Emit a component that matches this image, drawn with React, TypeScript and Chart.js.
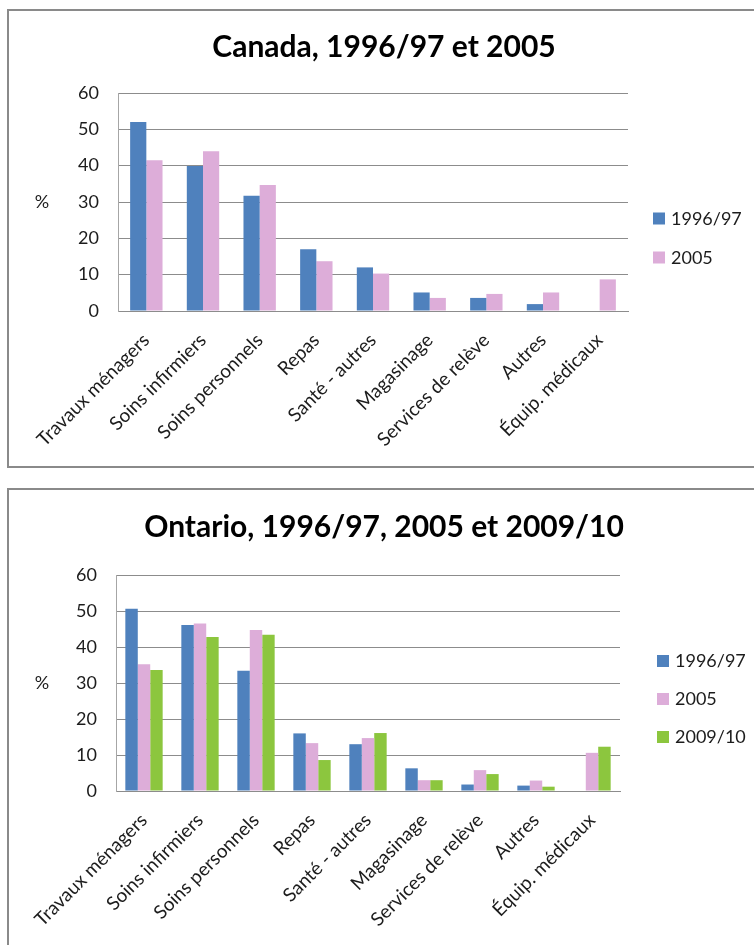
import React, { useEffect, useRef } from 'react';
import { Chart, registerables } from 'chart.js';

Chart.register(...registerables);

// Categories of home-care services received
const categories = [
  'Travaux ménagers',
  'Soins infirmiers',
  'Soins personnels',
  'Repas',
  'Santé - autres',
  'Magasinage',
  'Services de relève',
  'Autres',
  'Équip. médicaux',
];

// Canada (%)
const canada1996 = [52.0, 39.9, 31.7, 17.0, 12.0, 5.1, 3.6, 1.9, null];
const canada2005 = [41.5, 44.0, 34.7, 13.7, 10.3, 3.6, 4.7, 5.1, 8.7];

// Ontario (%)
const ontario1996 = [50.6, 46.1, 33.4, 16.0, 13.0, 6.3, 1.8, 1.5, null];
const ontario2005 = [35.2, 46.5, 44.7, 13.3, 14.7, 3.0, 5.8, 2.9, 10.6];
const ontario2009 = [33.6, 42.8, 43.4, 8.6, 16.1, 3.0, 4.7, 1.2, 12.3];

const yMin = 0;
const yMax = 60;
const yStep = 10;

const BLUE = '#4f81bd';
const PINK = '#ddadd9';
const GREEN = '#8cc63e';

const FONT = 'Lato, "Open Sans", sans-serif';
const TEXT = '#1c1c1c';
const GRID = '#8c8c8c';

const CANVAS_W = 750;

type Series = { label: string; data: (number | null)[]; color: string };

type PanelProps = {
  title: string;
  series: Series[];
  boxTop: number;
  boxHeight: number;
  canvasHeight: number;
  area: { left: number; right: number; top: number; bottom: number };
  titleCenter: number;
  legendX: number;
  legendCenter: number;
  legendGap: number;
  catPct: number;
};

function BarPanel(p: PanelProps) {
  const ref = useRef<HTMLCanvasElement | null>(null);

  useEffect(() => {
    const canvas = ref.current;
    if (!canvas) return;
    const titleSize = 30;
    const titleLine = titleSize * 1.2;
    const padTop = p.titleCenter - titleLine / 2;
    const padBottom = p.area.top - padTop - titleLine;

    // "%" unit label and the side legend, drawn from the chart's own datasets
    const extras = {
      id: 'extras',
      afterDraw(chart: Chart) {
        const ctx = chart.ctx;
        const a = chart.chartArea;
        ctx.save();
        ctx.fillStyle = TEXT;
        ctx.font = `18px ${FONT}`;
        ctx.textBaseline = 'middle';
        ctx.textAlign = 'center';
        ctx.fillText('%', 33, (a.top + a.bottom) / 2);

        const ds = chart.data.datasets;
        const n = ds.length;
        ctx.textAlign = 'left';
        ds.forEach((d, i) => {
          const cy = p.legendCenter + (i - (n - 1) / 2) * p.legendGap;
          ctx.fillStyle = d.backgroundColor as string;
          ctx.fillRect(p.legendX, cy - 6, 12, 12);
          ctx.fillStyle = TEXT;
          ctx.fillText(String(d.label), p.legendX + 18, cy + 0.5);
        });
        ctx.restore();
      },
    };

    const chart = new Chart(canvas, {
      type: 'bar',
      data: {
        labels: categories,
        datasets: p.series.map((s) => ({
          label: s.label,
          data: s.data,
          backgroundColor: s.color,
          borderWidth: 0,
          categoryPercentage: p.catPct,
          barPercentage: 1,
        })),
      },
      options: {
        responsive: false,
        animation: false,
        devicePixelRatio: 1,
        layout: { padding: 0 },
        plugins: {
          legend: { display: false },
          tooltip: { enabled: false },
          title: {
            display: true,
            text: p.title,
            color: '#000',
            font: { family: FONT, size: titleSize, weight: 'bold', lineHeight: 1.2 },
            padding: { top: padTop, bottom: padBottom },
          },
        },
        scales: {
          x: {
            grid: { display: false, drawTicks: false },
            border: { display: true, color: GRID, width: 1 },
            ticks: {
              color: TEXT,
              font: { family: FONT, size: 19 },
              minRotation: 45,
              maxRotation: 45,
              autoSkip: false,
              padding: 18,
            },
            afterFit(scale: any) {
              scale.height = p.canvasHeight - p.area.bottom;
            },
          },
          y: {
            min: yMin,
            max: yMax,
            grid: { color: GRID, lineWidth: 1, drawTicks: false },
            border: { display: true, color: '#a6a6a6', width: 1 },
            ticks: {
              stepSize: yStep,
              color: TEXT,
              font: { family: FONT, size: 18 },
              padding: 19,
            },
            afterFit(scale: any) {
              scale.width = p.area.left;
            },
          },
          // empty right-hand axis that keeps room for the legend
          side: {
            position: 'right',
            grid: { display: false, drawTicks: false },
            border: { display: false },
            ticks: { display: false },
            afterFit(scale: any) {
              scale.width = CANVAS_W - p.area.right;
            },
          },
        },
      },
      plugins: [extras],
    });
    return () => chart.destroy();
  }, []);

  return (
    <div
      style={{
        position: 'absolute',
        left: 7,
        top: p.boxTop,
        width: 820,
        height: p.boxHeight,
        boxSizing: 'border-box',
        border: '2px solid #8a8a8a',
        background: '#fff',
      }}
    >
      <canvas
        ref={ref}
        width={CANVAS_W}
        height={p.canvasHeight}
        style={{ display: 'block', width: CANVAS_W, height: p.canvasHeight }}
      />
    </div>
  );
}

export default function App() {
  return (
    <div
      style={{
        position: 'fixed',
        left: 0,
        top: 0,
        width: 754,
        height: 945,
        overflow: 'hidden',
        background: '#fff',
      }}
    >
      <BarPanel
        title="Canada, 1996/97 et 2005"
        series={[
          { label: '1996/97', data: canada1996, color: BLUE },
          { label: '2005', data: canada2005, color: PINK },
        ]}
        boxTop={9}
        boxHeight={459}
        canvasHeight={455}
        area={{ left: 109, right: 619, top: 82, bottom: 300 }}
        titleCenter={36}
        legendX={644}
        legendCenter={227}
        legendGap={39}
        catPct={2 / 3.5}
      />
      <BarPanel
        title="Ontario, 1996/97, 2005 et 2009/10"
        series={[
          { label: '1996/97', data: ontario1996, color: BLUE },
          { label: '2005', data: ontario2005, color: PINK },
          { label: '2009/10', data: ontario2009, color: GREEN },
        ]}
        boxTop={488}
        boxHeight={520}
        canvasHeight={455}
        area={{ left: 107, right: 611, top: 85, bottom: 301 }}
        titleCenter={37}
        legendX={648}
        legendCenter={209}
        legendGap={38}
        catPct={3 / 4.5}
      />
    </div>
  );
}
